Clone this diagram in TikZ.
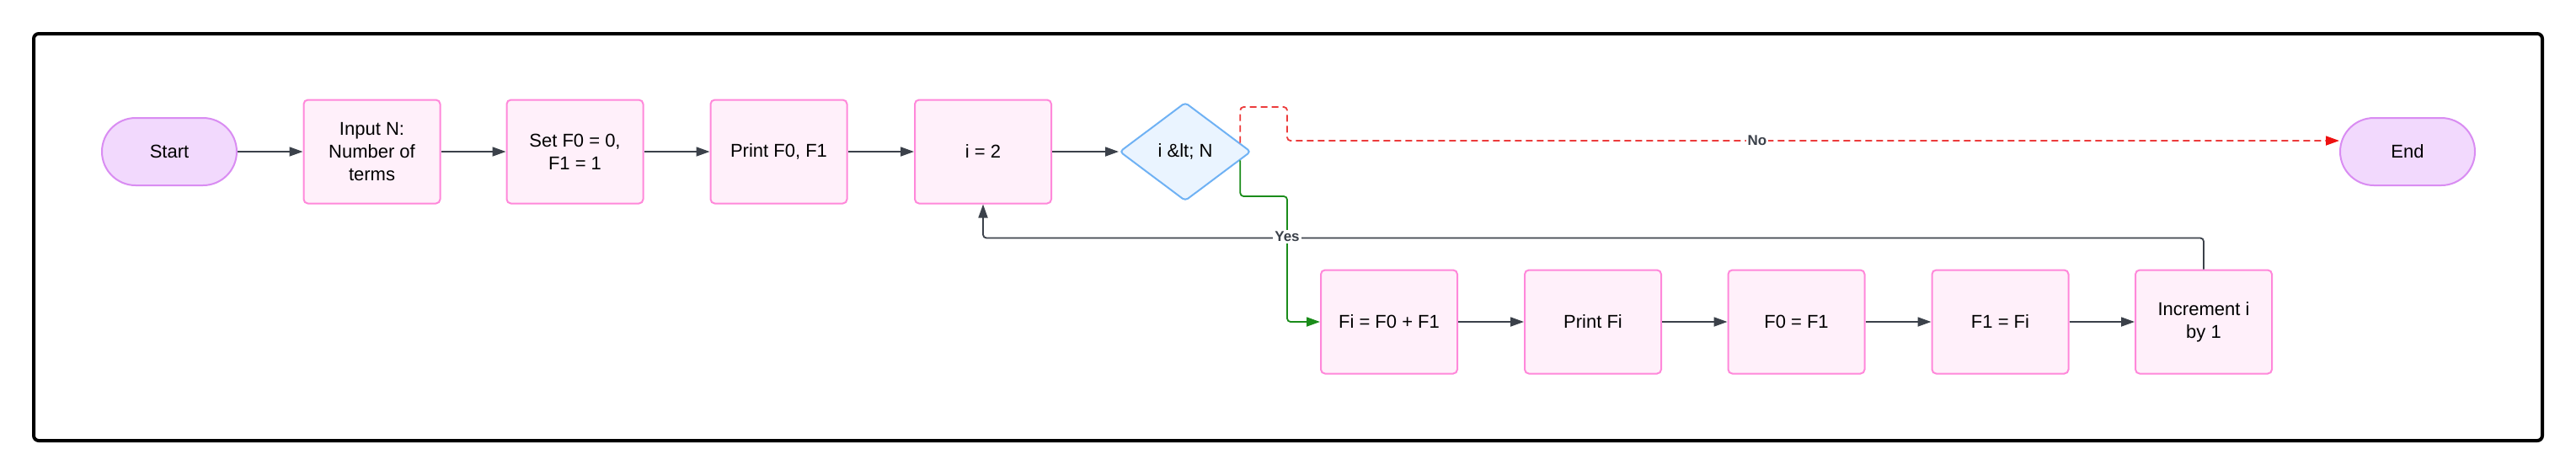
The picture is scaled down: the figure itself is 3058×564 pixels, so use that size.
\documentclass[tikz,border=0pt]{standalone}
\usepackage{fontspec}
\setmainfont{Liberation Sans}
\usepackage{xcolor}
\usetikzlibrary{arrows.meta,shapes.geometric,calc}

\definecolor{boxfill}{HTML}{FFF0FA}
\definecolor{boxline}{HTML}{FF88DA}
\definecolor{termfill}{HTML}{F2D9FD}
\definecolor{termline}{HTML}{D98CF2}
\definecolor{testfill}{HTML}{EAF4FF}
\definecolor{testline}{HTML}{70B2F4}
\definecolor{linkgray}{HTML}{3B414A}
\definecolor{nored}{HTML}{EC3B3B}
\definecolor{notip}{HTML}{EE1111}
\definecolor{yesgreen}{HTML}{1A8C1A}

\begin{document}
\begin{tikzpicture}[x=0.5pt,y=-0.5pt,
  font=\fontsize{11}{13.5}\selectfont,
  box/.style={draw=boxline,fill=boxfill,line width=1pt,rounded corners=2.5pt,
    minimum width=81pt,minimum height=61.5pt,align=center,inner sep=2pt},
  term/.style={draw=termline,fill=termfill,line width=1pt,rounded corners=20pt,
    minimum width=80pt,minimum height=40pt},
  test/.style={diamond,draw=testline,fill=testfill,line width=1pt,rounded corners=2pt,
    minimum width=78pt,minimum height=58.5pt,inner sep=0pt},
  arr/.style={-{Triangle[length=8pt,width=5.5pt]},line width=0.9pt,draw=linkgray,rounded corners=2pt},
  elabel/.style={fill=white,text=linkgray,inner sep=1pt,font=\fontsize{8.5}{10}\selectfont\bfseries}]
\useasboundingbox (0,0) rectangle (3058,564);
\draw [line width=2pt,rounded corners=3pt] (40,40) rectangle (3018,523);
% top row
\node [term] (start) at (201,180) {Start};
\node [box] (input) at (441.5,180) {Input N:\\Number of\\terms};
\node [box] (setf) at (682.5,180) {Set F0 = 0,\\F1 = 1};
\node [box] (printf) at (924.5,180) {Print F0, F1};
\node [box] (initi) at (1167,180) {i = 2};
\node [test] (dec) at (1407,180) {i \&lt; N};
\node [term] (stop) at (2858,180) {End};
% loop body
\node [box] (fisum) at (1649,382) {Fi = F0 + F1};
\node [box] (printfi) at (1891,382) {Print Fi};
\node [box] (fzero) at (2132.5,382) {F0 = F1};
\node [box] (fone) at (2374.5,382) {F1 = Fi};
\node [box] (incr) at (2616,382) {Increment i\\by 1};
\foreach \a/\b in {start/input,input/setf,setf/printf,printf/initi,initi/dec,fisum/printfi,printfi/fzero,fzero/fone,fone/incr}
  \draw [arr] (\a) -- (\b);
% back to the test
\draw [arr] (incr.north) |- ([yshift=-20pt]initi.south) -- (initi.south);
\coordinate (nb) at (1528,127);
\coordinate (yb) at (1528,233);
\draw [arr,draw=nored,dash pattern=on 4pt off 2.5pt,-{Triangle[length=8pt,width=5.5pt,color=notip]}]
  (dec.9) |- (nb) |- ([yshift=6.5pt]stop.west);
\draw [arr,draw=yesgreen,-{Triangle[length=8pt,width=5.5pt,color=yesgreen]}]
  (dec.-9) |- (yb) |- (fisum.west);
\node [elabel] (no) at (2086,167) {No};
\node [elabel] (yes) at (1528,281) {Yes};
\end{tikzpicture}
\end{document}
